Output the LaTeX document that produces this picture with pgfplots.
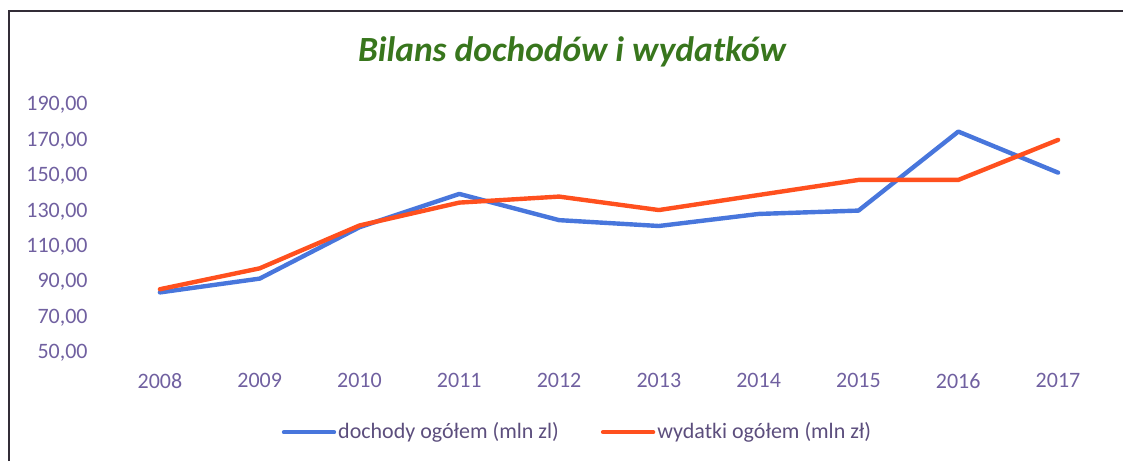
\documentclass[border=0pt]{standalone}
\usepackage{pgfplots}
\pgfplotsset{compat=1.18}
\usepackage{fontspec}
\setmainfont{Carlito}
\definecolor{tickc}{RGB}{112,96,160}
\definecolor{legc}{RGB}{92,78,125}
\definecolor{titlec}{RGB}{56,118,29}
\definecolor{blueL}{RGB}{72,118,220}
\definecolor{redL}{RGB}{255,80,30}
\definecolor{frame}{RGB}{50,45,55}
\begin{document}
\begin{tikzpicture}
\path[use as bounding box] (0pt,0pt) rectangle (561.5pt,-230.5pt);
\draw[frame, line width=1pt] (4.5pt,-230.5pt) -- (4.5pt,-5.5pt) -- (561.5pt,-5.5pt);
\node[font=\fontsize{17.7}{20}\selectfont\bfseries\itshape, text=titlec] at (286pt,-26pt) {Bilans dochodów i wydatków};
\begin{axis}[
  at={(55pt,-176.5pt)}, anchor=south west,
  scale only axis, width=499pt, height=124pt,
  xmin=2007.5, xmax=2017.5, ymin=50, ymax=190,
  axis line style={draw=none},
  major tick length=0pt,
  xtick={2008,...,2017},
  xticklabels={2008,2009,2010,2011,2012,2013,2014,2015,2016,2017},
  ytick={50,70,...,190},
  /pgf/number format/assume math mode=true,
  yticklabel={\pgfmathprintnumber[fixed,fixed zerofill,precision=2,use comma,1000 sep={}]{\tick}},
  tick label style={font=\fontsize{11}{13}\selectfont, text=tickc, inner sep=0pt},
  every y tick label/.append style={anchor=east, xshift=-11pt},
  every x tick label/.append style={anchor=north, yshift=-10pt},
  legend columns=2,
  legend style={at={(0.4684,-0.319)}, anchor=center, draw=none, fill=none, inner sep=0pt,
    font=\fontsize{11}{13}\selectfont, text=legc,
    nodes={inner sep=1pt, anchor=west}},
  /tikz/every even column/.append style={column sep=20pt},
  legend image code/.code={\draw[#1, line width=2.2pt] (0pt,0pt) -- (25pt,0pt);},
]
\addplot[blueL, line width=2.2pt, line join=round, line cap=round] coordinates {
(2008,84.2) (2009,92.0) (2010,121.0) (2011,139.8) (2012,125.0)
(2013,121.7) (2014,128.5) (2015,130.4) (2016,175.0) (2017,151.8)};
\addlegendentry{dochody ogółem (mln zl)}
\addplot[redL, line width=2.2pt, line join=round, line cap=round] coordinates {
(2008,86.0) (2009,97.8) (2010,122.0) (2011,134.9) (2012,138.3)
(2013,130.7) (2014,139.2) (2015,147.7) (2016,147.7) (2017,170.3)};
\addlegendentry{wydatki ogółem (mln zł)}
\end{axis}
\end{tikzpicture}
\end{document}
